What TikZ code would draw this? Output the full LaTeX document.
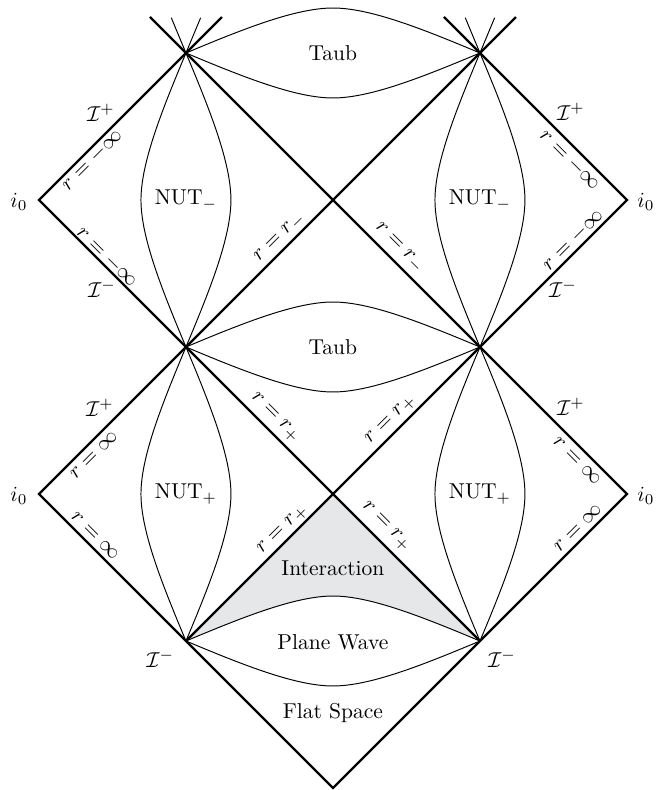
\documentclass[tikz,border=0pt]{standalone}
\usepackage{amsmath}
\definecolor{interfill}{RGB}{230,231,233}
\tikzset{
  horizon/.style={line width=1.1pt, line join=miter},
  rconst/.style={line width=0.45pt},
  rlab/.style={inner sep=0pt},
  lensarc/.pic={
    \draw[rconst] (0,1) .. controls (-0.168,0.6) and (-0.306,0.25) .. (-0.306,0)
                        .. controls (-0.306,-0.25) and (-0.168,-0.6) .. (0,-1);
    \draw[rconst] (0,1) .. controls (0.168,0.6) and (0.306,0.25) .. (0.306,0)
                        .. controls (0.306,-0.25) and (0.168,-0.6) .. (0,-1);
  }
}
\begin{document}
\begin{tikzpicture}[x=2.4cm,y=2.4cm]
\useasboundingbox (-2.265,-1.0136) rectangle (2.204,4.3605);

% corner points of the diagram
\coordinate (TL) at (-1,4);
\coordinate (TR) at (1,4);
\coordinate (iL) at (-2,3);
\coordinate (iR) at (2,3);
\coordinate (C)  at (0,3);
\coordinate (ML) at (-1,2);
\coordinate (MR) at (1,2);
\coordinate (jL) at (-2,1);
\coordinate (jR) at (2,1);
\coordinate (D)  at (0,1);
\coordinate (BL) at (-1,0);
\coordinate (BR) at (1,0);
\coordinate (B)  at (0,-1);

% shaded interaction region
\fill[interfill] (BL) -- (D) -- (BR)
  .. controls (0.6,0.168) and (0.25,0.306) .. (0,0.306)
  .. controls (-0.25,0.306) and (-0.6,0.168) .. (BL) -- cycle;

% surfaces of constant r
\pic at (-1,3) {lensarc};
\pic at (1,3) {lensarc};
\pic at (-1,1) {lensarc};
\pic at (1,1) {lensarc};
\pic[rotate=90] at (0,4) {lensarc};
\pic[rotate=90] at (0,2) {lensarc};
\pic[rotate=90] at (0,0) {lensarc};
\draw[rconst] (-1.1,4.24) -- (TL) (-0.9,4.24) -- (TL);
\draw[rconst] (0.9,4.24) -- (TR) (1.1,4.24) -- (TR);

% horizons and null boundaries
\draw[horizon] (-1.245,4.245) -- (TL) -- (C) -- (MR) -- (jR) -- (BR) -- (B) -- (BL) -- (jL) -- (ML) -- (C) -- (TR) -- (1.245,4.245);
\draw[horizon] (-0.755,4.245) -- (iL) -- (ML) -- (D) -- (BR);
\draw[horizon] (0.755,4.245) -- (iR) -- (MR) -- (D) -- (BL);

% region names
\node at (0,4) {Taub};
\node at (0,2) {Taub};
\node at (-1,3) {NUT$_-$};
\node at (1,3) {NUT$_-$};
\node at (-1,1) {NUT$_+$};
\node at (1,1) {NUT$_+$};
\node at (0,0.497) {Interaction};
\node at (0,-0.007) {Plane Wave};
\node at (0,-0.49) {Flat Space};

% spatial infinity
\node at (-2.136,2.986) {$i_0$};
\node at (2.129,2.986) {$i_0$};
\node at (-2.136,0.986) {$i_0$};
\node at (2.129,0.986) {$i_0$};

% null infinity
\node at (-1.578,3.592) {$\mathcal{I}^+$};
\node at (-1.571,2.395) {$\mathcal{I}^-$};
\node at (1.619,3.599) {$\mathcal{I}^+$};
\node at (1.565,2.395) {$\mathcal{I}^-$};
\node at (-1.585,1.585) {$\mathcal{I}^+$};
\node at (1.619,1.592) {$\mathcal{I}^+$};
\node at (-1.175,-0.122) {$\mathcal{I}^-$};
\node at (1.15,-0.122) {$\mathcal{I}^-$};

% values of r along the boundaries
\node[rlab,rotate=45]  at (-1.639,3.272) {$r=-\infty$};
\node[rlab,rotate=-45] at (-1.537,2.612) {$r=-\infty$};
\node[rlab,rotate=-45] at (1.612,3.272) {$r=-\infty$};
\node[rlab,rotate=45]  at (1.633,2.728) {$r=-\infty$};
\node[rlab,rotate=45]  at (-1.626,1.265) {$r=\infty$};
\node[rlab,rotate=-45] at (-1.619,0.714) {$r=\infty$};
\node[rlab,rotate=-45] at (1.66,1.224) {$r=\infty$};
\node[rlab,rotate=45]  at (1.667,0.769) {$r=\infty$};
\node[rlab,rotate=45]  at (-0.361,2.741) {$r=r_-$};
\node[rlab,rotate=-45] at (0.449,2.673) {$r=r_-$};
\node[rlab,rotate=-45] at (-0.395,1.517) {$r=r_+$};
\node[rlab,rotate=45]  at (0.395,1.503) {$r=r_+$};
\node[rlab,rotate=45]  at (-0.34,0.755) {$r=r_+$};
\node[rlab,rotate=-45] at (0.361,0.776) {$r=r_+$};
\end{tikzpicture}
\end{document}
